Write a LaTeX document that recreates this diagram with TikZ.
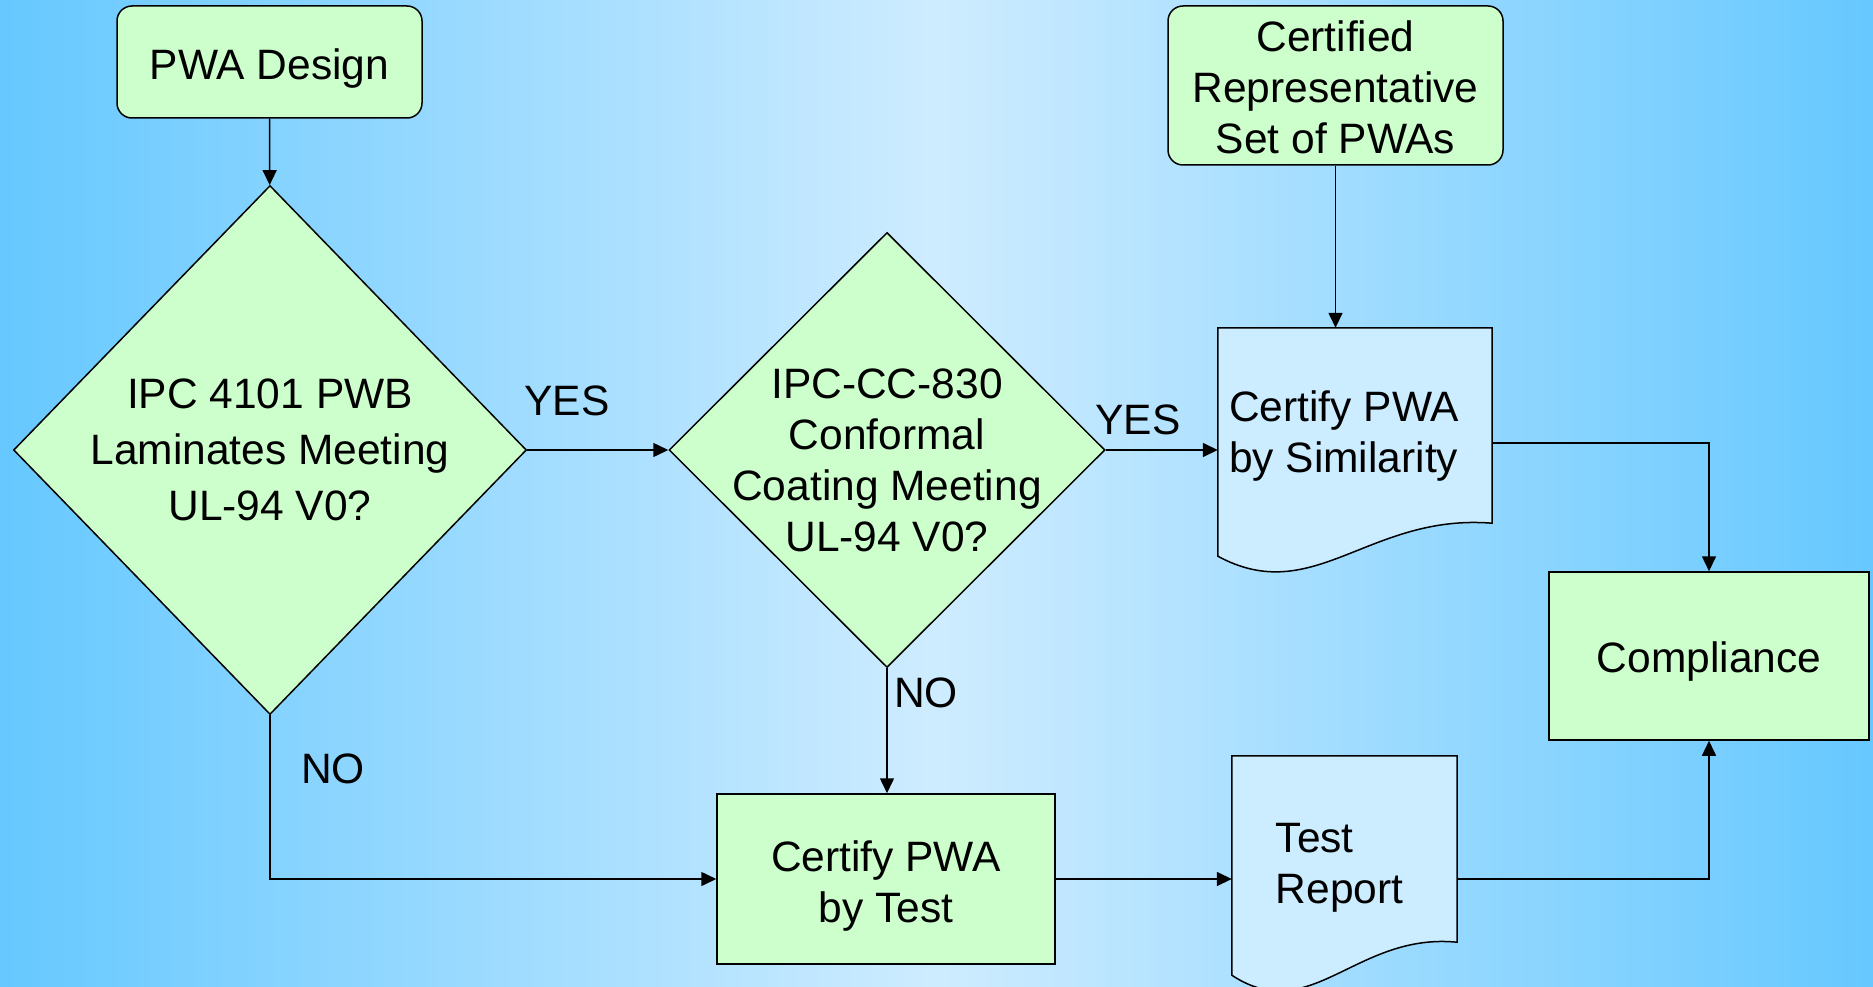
\documentclass[tikz,border=0pt]{standalone}
\usepackage{fontspec}
\setmainfont{Liberation Sans}
\usepackage{tikz}
\usetikzlibrary{arrows.meta,calc,shapes.geometric}
\definecolor{bgedge}{RGB}{102,200,255}
\definecolor{bgmid}{RGB}{206,236,255}
\definecolor{boxgreen}{RGB}{204,255,204}
\definecolor{docblue}{RGB}{204,236,255}
\tikzstyle{txt}		=[font=\fontsize{42.5}{51}\selectfont, inner sep=0pt]
\tikzstyle{boxtxt}	=[txt, align=center]
\tikzstyle{doctxt}	=[txt, align=left]
\tikzstyle{startbox}	=[rectangle, rounded corners=15pt, draw=black, line width=1.5pt, fill=boxgreen, inner sep=0pt]
\tikzstyle{procbox}	=[rectangle, draw=black, line width=1.5pt, fill=boxgreen, inner sep=0pt]
\tikzstyle{decision}	=[diamond, draw=black, line width=1.5pt, fill=boxgreen, inner sep=0pt, aspect=1]
\tikzstyle{docnode}	=[rectangle, inner sep=0pt]
\tikzstyle{docline}	=[draw=black, line width=1.5pt, fill=docblue]
\tikzstyle{lbl}		=[txt]
\tikzstyle{edgeflow}	=[draw, line width=1.5pt, -{Triangle[length=15pt,width=14pt]}]

%% document outline of a docnode: #1 node, #2 lift of the right corner
\newcommand{\docoutline}[2]{%
  \coordinate (r) at ([yshift=#2]#1.south east);
  \coordinate (l) at ([yshift=#2]#1.south west);
  \path[docline] (#1.north west) -- (#1.north east) -- (r)
    .. controls ($(l)!0.55!(r)+(0,-10)$) and ($(l)!0.35!(r)+(0,85)$) .. ($(l)+(0,33)$) -- cycle;
}

\begin{document}
\begin{tikzpicture}[x=1pt,y=-1pt]

		%%%% background
		\useasboundingbox (0,0) rectangle (1873,987);
		\shade[left color=bgedge, right color=bgedge, middle color=bgmid] (0,0) rectangle (1873,987);

		%%%% start boxes
		\node[startbox, minimum width=305pt, minimum height=112pt] (design) at (269.5,62) {};
		\node[startbox, minimum width=335pt, minimum height=159pt] (cert) at (1335.5,85.5) {};

		%%%% decisions
		\node[decision, minimum width=513pt, minimum height=529pt] (d1) at (270,450) {};
		\node[decision, minimum width=436pt, minimum height=435pt] (d2) at (887,450) {};

		%%%% documents
		\node[docnode, minimum width=274pt, minimum height=208pt] (sim) at (1355,432) {};
		\node[docnode, minimum width=225pt, minimum height=212pt] (rep) at (1344.5,862) {};
		\docoutline{sim}{13pt}
		\docoutline{rep}{26pt}

		%%%% process boxes
		\node[procbox, minimum width=338pt, minimum height=170pt] (box) at (886,879) {};
		\node[procbox, minimum width=320pt, minimum height=168pt] (comp) at (1709,656) {};

		%%%% texts
		\node[boxtxt] (designtxt) at (269.5,69) {PWA Design};
		\node[boxtxt] (certtxt) at (1335.5,87.5) {Certified\\Representative\\Set of PWAs};
		\node[boxtxt] (d1txt) at (270,450) {IPC 4101 PWB\\[5pt]Laminates Meeting\\[5pt]UL-94 V0?};
		\node[boxtxt] (d2txt) at (887,460) {IPC-CC-830\\Conformal\\Coating Meeting\\UL-94 V0?};
		\node[doctxt] (simtxt) at (1344,436) {Certify PWA\\by Similarity};
		\node[doctxt] (reptxt) at (1339.5,868) {Test\\Report};
		\node[boxtxt] (boxtxt) at (886,886) {Certify PWA\\by Test};
		\node[boxtxt] (comptxt) at (1709,662) {Compliance};

		%%%% labels
		\node[lbl] (yes1) at (567,401) {YES};
		\node[lbl] (yes2) at (1138,420) {YES};
		\node[lbl] (no1) at (926,693) {NO};
		\node[lbl] (no2) at (333,769) {NO};

		%%%% flow
		\foreach \source/ \dest in {design/d1, d1/d2}	\path[edgeflow] (\source) -- (\dest);
		\path[edgeflow] (d2.east) -- (d2.east -| sim.west);
		\path[edgeflow] (cert.south) -- (cert.south |- sim.north);
		\path[edgeflow] ([yshift=-11pt]sim.east) -| (comp.north);
		\path[edgeflow] (d2.south) -- (d2.south |- box.north);
		\path[edgeflow] (d1.south) |- (box.west);
		\path[edgeflow] (box.east) -- (box.east -| rep.west);
		\path[edgeflow] (rep.east |- box.east) -| (comp.south);
\end{tikzpicture}
\end{document}
